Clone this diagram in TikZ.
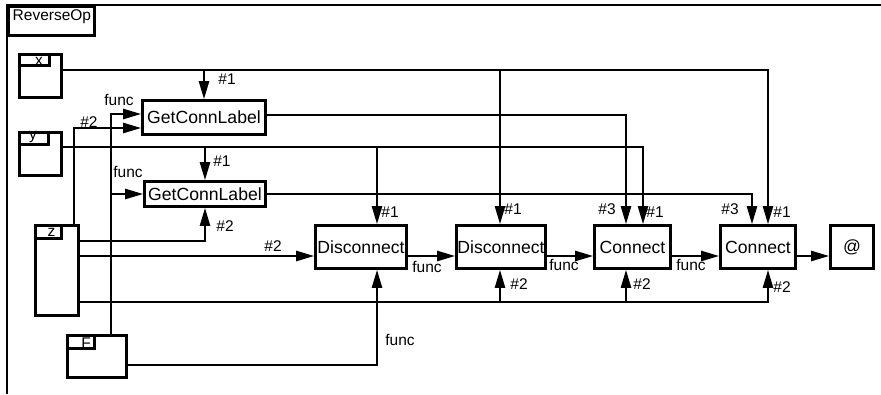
\documentclass[tikz,border=0pt]{standalone}
\usepackage{fontspec}
\setmainfont{Liberation Sans}
\usetikzlibrary{arrows.meta}
\begin{document}
\begin{tikzpicture}[x=1pt,y=-1pt,
  opbox/.style={draw,line width=2.6pt,inner sep=0pt,font=\fontsize{17.6}{20}\selectfont},
  port/.style={draw,line width=2.6pt,inner sep=0pt},
  tabbox/.style={draw,line width=2.3pt,inner sep=0pt},
  lbl/.style={inner sep=0pt,font=\fontsize{15.5}{18}\selectfont},
  tablbl/.style={inner sep=0pt,font=\fontsize{15.5}{18}\selectfont},
  wire/.style={line width=2.3pt},
  arr/.style={wire,-{Triangle[length=18pt,width=10pt]}}]
\useasboundingbox (0,0) rectangle (881,394);

% enclosing frame and its title tab
\draw[line width=2.6pt] (881,5) -- (7,5) -- (7,394);
\node[tabbox,minimum width=86pt,minimum height=29pt] (revtab) at (51.5,21) {};
\node[lbl,anchor=west] (revname) at (12.5,17) {ReverseOp};

% input ports
\node[port,minimum width=42pt,minimum height=43pt] (xbox) at (40.5,76) {};
\node[tabbox,minimum width=30pt,minimum height=11pt] (xtab) at (34.5,60) {};
\node[tablbl] (xname) at (39,61) {x};
\node[port,minimum width=42pt,minimum height=43pt] (ybox) at (40.5,154) {};
\node[tabbox,minimum width=29pt,minimum height=12pt] (ytab) at (34,138.5) {};
\node[tablbl] (yname) at (33,137) {y};
\node[port,minimum width=43pt,minimum height=90pt] (zbox) at (57,270.5) {};
\node[tabbox,minimum width=26pt,minimum height=13pt] (ztab) at (48.5,232) {};
\node[tablbl] (zname) at (51.5,232) {z};
\node[port,minimum width=59pt,minimum height=42pt] (Fbox) at (97,356.5) {};
\node[tabbox,minimum width=27pt,minimum height=13pt] (Ftab) at (81,342) {};
\node[tablbl] (Fname) at (86,343) {F};

% operation boxes
\node[opbox,minimum width=123pt,minimum height=34pt] (gclA) at (204,117.5) {GetConnLabel};
\node[opbox,minimum width=121pt,minimum height=25pt] (gclB) at (205,194) {GetConnLabel};
\node[opbox,minimum width=91pt,minimum height=43pt] (disA) at (361,247) {Disconnect};
\node[opbox,minimum width=89pt,minimum height=43pt] (disB) at (501,247) {Disconnect};
\node[opbox,minimum width=76pt,minimum height=43pt] (conA) at (632.5,247) {Connect};
\node[opbox,minimum width=75pt,minimum height=43pt] (conB) at (758,247) {Connect};
\node[opbox,minimum width=43pt,minimum height=43pt] (res) at (852,247) {@};

% wire columns and rows
\coordinate (colZ) at (74,0);
\coordinate (colF) at (111,0);
\coordinate (colD1) at (377,0);
\coordinate (colD2) at (500,0);
\coordinate (colC1a) at (626,0);
\coordinate (colC1b) at (643,0);
\coordinate (colC2a) at (752,0);
\coordinate (colC2b) at (768,0);
\coordinate (rowX) at (0,70);
\coordinate (rowFa) at (0,114);
\coordinate (rowGA) at (0,115);
\coordinate (rowZa) at (0,128);
\coordinate (rowY) at (0,147);
\coordinate (rowZ1) at (0,241);
\coordinate (rowChain) at (0,256);
\coordinate (rowZ3) at (0,302);
\coordinate (rowF) at (0,365);

% x
\draw[arr] (xbox.east |- rowX) -| (colC2b |- conB.north);
\draw[arr] (gclA.north |- rowX) -- (gclA.north);
\draw[arr] (colD2 |- rowX) -- (colD2 |- disB.north);
% y
\draw[arr] (ybox.east |- rowY) -| (colC1b |- conA.north);
\draw[arr] (gclB.north |- rowY) -- (gclB.north);
\draw[arr] (colD1 |- rowY) -- (colD1 |- disA.north);
% labels fetched by GetConnLabel
\draw[arr] (gclA.east |- rowGA) -| (colC1a |- conA.north);
\draw[arr] (gclB.east) -| (colC2a |- conB.north);
% F
\draw[arr] (colF |- Fbox.north) |- (gclA.west |- rowFa);
\draw[arr] (colF |- gclB.west) -- (gclB.west);
\draw[arr] (Fbox.east |- rowF) -| (colD1 |- disA.south);
% z
\draw[arr] (colZ |- zbox.north) |- (gclA.west |- rowZa);
\draw[arr] (zbox.east |- rowZ1) -| (gclB.south);
\draw[arr] (zbox.east |- rowChain) -- (disA.west |- rowChain);
\draw[arr] (zbox.east |- rowZ3) -| (colC2b |- conB.south);
\draw[arr] (colD2 |- rowZ3) -- (colD2 |- disB.south);
\draw[arr] (colC1a |- rowZ3) -- (colC1a |- conA.south);
% chain of operations
\draw[arr] (disA.east |- rowChain) -- (disB.west |- rowChain);
\draw[arr] (disB.east |- rowChain) -- (conA.west |- rowChain);
\draw[arr] (conA.east |- rowChain) -- (conB.west |- rowChain);
\draw[arr] (conB.east |- rowChain) -- (res.west |- rowChain);

% port labels
\node[lbl] (l1) at (227,79) {\#1};
\node[lbl] (l2) at (119,100) {func};
\node[lbl] (l3) at (89,122) {\#2};
\node[lbl] (l4) at (222,161) {\#1};
\node[lbl] (l5) at (128,172) {func};
\node[lbl] (l6) at (225,226) {\#2};
\node[lbl] (l7) at (273,246) {\#2};
\node[lbl] (l8) at (390,212) {\#1};
\node[lbl] (l9) at (513,209) {\#1};
\node[lbl] (l10) at (427,267) {func};
\node[lbl] (l11) at (564,265) {func};
\node[lbl] (l12) at (519,284) {\#2};
\node[lbl] (l13) at (400,340) {func};
\node[lbl] (l14) at (607,209) {\#3};
\node[lbl] (l15) at (655,212) {\#1};
\node[lbl] (l16) at (730,209) {\#3};
\node[lbl] (l17) at (782,212) {\#1};
\node[lbl] (l18) at (642,284) {\#2};
\node[lbl] (l19) at (782,287) {\#2};
\node[lbl] (l20) at (691,265) {func};
\end{tikzpicture}
\end{document}
